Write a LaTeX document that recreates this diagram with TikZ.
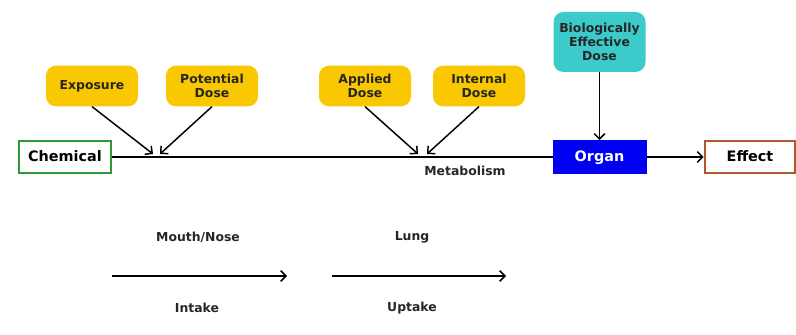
\documentclass[tikz,border=0pt]{standalone}
\usepackage{fontspec}
\usetikzlibrary{arrows.meta}
\setmainfont{DejaVu Sans}
\definecolor{doseyellow}{HTML}{FAC800}
\definecolor{doseteal}{HTML}{3CCACA}
\definecolor{organblue}{HTML}{0000F2}
\definecolor{chemgreen}{HTML}{2F9A35}
\definecolor{effbrown}{HTML}{B0582A}
\tikzset{
  dose/.style={fill=doseyellow,rounded corners=7.5pt,minimum width=69pt,minimum height=30.5pt,
    align=center,font=\bfseries\fontsize{9.3}{10.5}\selectfont,text=black!85,inner sep=1pt},
  endbox/.style={draw,line width=1.5pt,fill=white,minimum width=69pt,minimum height=24pt,
    font=\bfseries\fontsize{10.8}{12}\selectfont,inner sep=1pt,text height=8pt,text depth=2pt},
  lbl/.style={font=\bfseries\fontsize{9.3}{11}\selectfont,text=black!85},
  flow/.style={line width=1.1pt,-{Straight Barb[length=4pt,width=8pt]}}
}
\begin{document}
\begin{tikzpicture}[x=0.75pt,y=-0.75pt]
    \useasboundingbox[fill=white] (0,0) rectangle (796,335);
    \node[endbox,draw=chemgreen] (chem) at (65,157) {Chemical};
    \node[endbox,draw=organblue,fill=organblue,text=white] (organ) at (599.5,157) {Organ};
    \node[endbox,draw=effbrown,minimum width=68pt] (effect) at (750,157) {Effect};
    \node[dose] (expo) at (92,86) {Exposure};
    \node[dose] (pot) at (212,86) {Potential\\Dose};
    \node[dose] (appl) at (365,86) {Applied\\Dose};
    \node[dose] (intl) at (479,86) {Internal\\Dose};
    \node[dose,fill=doseteal,minimum height=45pt] (bed) at (599.5,42) {Biologically\\Effective\\Dose};
    \coordinate (x1) at (153,154);
    \coordinate (x2) at (160,154);
    \coordinate (x3) at (418,154);
    \coordinate (x4) at (427,154);
    \draw[line width=1.1pt] (chem) -- (organ);
    \draw[flow] (expo.south) -- (x1);
    \draw[flow] (pot.south) -- (x2);
    \draw[flow] (appl.south) -- (x3);
    \draw[flow] (intl.south) -- (x4);
    \draw[flow] (bed) -- (organ);
    \draw[flow] (organ) -- (effect);
    \node[lbl] (metab) at (465,171) {Metabolism};
    \coordinate (m1) at (112,276);
    \coordinate (m2) at (287,276);
    \coordinate (l1) at (332,276);
    \coordinate (l2) at (506,276);
    \draw[flow] (m1) -- (m2);
    \draw[flow] (l1) -- (l2);
    \node[lbl] (mouth) at (198,237) {Mouth/Nose};
    \node[lbl] (intake) at (197,308) {Intake};
    \node[lbl] (lung) at (412,237) {Lung};
    \node[lbl] (uptake) at (412,308) {Uptake};
\end{tikzpicture}
\end{document}
